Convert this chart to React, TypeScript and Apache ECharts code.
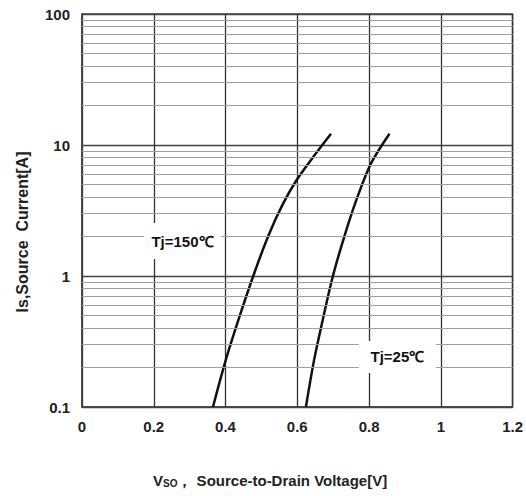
import React, { useEffect, useRef } from "react";
import * as echarts from "echarts";

// Curve data: [V_SD (V), Is (A)]
const vsd150 = [0.365, 0.4, 0.44, 0.48, 0.52, 0.56, 0.6, 0.65, 0.694];
const is150 = [0.1, 0.225, 0.5, 1.05, 2.05, 3.55, 5.5, 8.5, 12.2];
const vsd25 = [0.624, 0.647, 0.67, 0.698, 0.731, 0.763, 0.805, 0.857];
const is25 = [0.1, 0.23, 0.45, 0.97, 2.0, 3.7, 7.2, 12.2];

// minor horizontal grid values (log decades)
const minorGrid = [
  0.2, 0.3, 0.4, 0.5, 0.6, 0.7, 0.8, 0.9,
  2, 3, 4, 5, 6, 7, 8, 9,
  20, 30, 40, 50, 60, 70, 80, 90,
];

// label anchor points (data coords)
const label150 = { text: "Tj=150℃", x: 0.28, y: 1.85 };
const label25 = { text: "Tj=25℃", x: 0.879, y: 0.241 };

const FONT = "'Liberation Sans', Arial, sans-serif";

export default function App() {
  const ref = useRef<HTMLDivElement>(null);
  useEffect(() => {
    if (!ref.current) return;
    const chart = echarts.init(ref.current, null, { renderer: "svg" });
    const labelStyle = {
      show: true,
      position: "inside",
      color: "#111",
      fontWeight: "bold",
      fontSize: 15,
      fontFamily: FONT,
    };
    chart.setOption({
      animation: false,
      backgroundColor: "#fff",
      grid: {
        left: 82,
        right: 12,
        top: 14,
        bottom: 89,
        show: true,
        borderColor: "#444",
        borderWidth: 1.5,
      },
      xAxis: {
        type: "value",
        min: 0,
        max: 1.2,
        interval: 0.2,
        axisLine: { show: true, lineStyle: { color: "#444", width: 1.5 } },
        axisTick: { show: false },
        axisLabel: {
          margin: 12,
          color: "#222",
          fontSize: 15,
          fontWeight: "bold",
          fontFamily: FONT,
          formatter: (v: number) => String(+v.toFixed(1)),
        },
        splitLine: { show: true, lineStyle: { color: "#333", width: 1.3 } },
      },
      yAxis: {
        type: "log",
        logBase: 10,
        min: 0.1,
        max: 100,
        axisLine: { show: true, lineStyle: { color: "#444", width: 1.5 } },
        axisTick: { show: false },
        axisLabel: {
          margin: 12,
          color: "#222",
          fontSize: 15,
          fontWeight: "bold",
          fontFamily: FONT,
          formatter: (v: number) => String(+v.toPrecision(3)),
        },
        splitLine: { show: true, lineStyle: { color: "#444", width: 1.3 } },
      },
      graphic: [
        {
          type: "text",
          x: 22,
          y: 232,
          rotation: Math.PI / 2,
          style: {
            text: "Is,Source  Current[A]",
            fill: "#222",
            font: `bold 16px ${FONT}`,
            textAlign: "center",
            textVerticalAlign: "middle",
          },
        },
        {
          type: "text",
          x: 153,
          y: 480,
          style: {
            text: "{a|V}{s|SO}{a|， Source-to-Drain Voltage[V]}",
            textVerticalAlign: "middle",
            rich: {
              a: { fill: "#222", fontSize: 15, fontWeight: "bold", fontFamily: FONT },
              s: { fill: "#222", fontSize: 10, fontWeight: "bold", fontFamily: FONT, padding: [6, 0, 0, 0] },
            },
          },
        },
      ],
      series: [
        {
          type: "line",
          data: [],
          silent: true,
          markLine: {
            silent: true,
            symbol: "none",
            label: { show: false },
            lineStyle: { color: "#a0a0a0", width: 1.2, type: "solid" },
            data: minorGrid.map((v) => ({ yAxis: v })),
          },
        },
        {
          type: "line",
          data: vsd150.map((x, i) => [x, is150[i]]),
          smooth: 0.3,
          showSymbol: false,
          lineStyle: { color: "#111", width: 2.5 },
          markPoint: {
            silent: true,
            data: [
              {
                coord: [label150.x, label150.y],
                symbol: "rect",
                symbolSize: [77, 36],
                itemStyle: { color: "#fff" },
                label: { ...labelStyle, formatter: label150.text },
              },
            ],
          },
        },
        {
          type: "line",
          data: vsd25.map((x, i) => [x, is25[i]]),
          smooth: 0.3,
          showSymbol: false,
          lineStyle: { color: "#111", width: 2.5 },
          markPoint: {
            silent: true,
            data: [
              {
                coord: [label25.x, label25.y],
                symbol: "rect",
                symbolSize: [77, 32],
                itemStyle: { color: "#fff" },
                label: { ...labelStyle, formatter: label25.text },
              },
            ],
          },
        },
      ],
    });
    return () => chart.dispose();
  }, []);
  return (
    <div
      ref={ref}
      style={{ position: "absolute", left: 0, top: 0, width: 526, height: 496 }}
    />
  );
}
